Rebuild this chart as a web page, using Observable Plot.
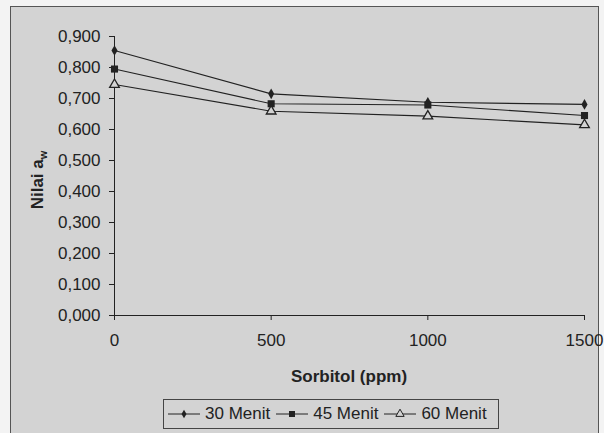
<!DOCTYPE html>
<html>
<head>
<meta charset="utf-8">
<script src="https://cdn.jsdelivr.net/npm/d3@7"></script>
<script src="https://cdn.jsdelivr.net/npm/@observablehq/plot@0.6"></script>
<style>
  html, body { margin: 0; padding: 0; background: #f3f3f3; }
  #wrap { position: relative; width: 604px; height: 433px; overflow: hidden; font-family: "Liberation Sans", Arial, sans-serif; }
  #frame { position: absolute; left: 10px; top: 6px; width: 587px; height: 440px; border: 1px solid #555; background: #d3d3d3; }
  #chart { position: absolute; left: 0; top: 0; }
  #legend { position: absolute; left: 163px; top: 399px; width: 336px; height: 30px; border: 1px solid #444; box-sizing: border-box;
            display: flex; align-items: center; padding-left: 4px; font-size: 17px; color: #222; }
  .item { display: flex; align-items: center; margin-right: 6px; }
  .item svg { margin-right: 5px; }
</style>
</head>
<body>
<div id="wrap">
  <div id="frame"></div>
  <div id="chart"></div>
  <div id="legend"></div>
</div>
<script>
// Data
const sorbitol = [0, 500, 1000, 1500];
const series = ["30 Menit", "45 Menit", "60 Menit"];
const menit30 = [0.855, 0.715, 0.688, 0.681];
const menit45 = [0.795, 0.683, 0.679, 0.645];
const menit60 = [0.745, 0.659, 0.643, 0.615];
const yTicks = [0, 0.1, 0.2, 0.3, 0.4, 0.5, 0.6, 0.7, 0.8, 0.9];
const xTicks = [0, 500, 1000, 1500];

const values = [menit30, menit45, menit60];
const data = [];
series.forEach((s, i) => sorbitol.forEach((x, j) => data.push({series: s, x, y: values[i][j]})));

const ink = "#222";
const fmt = d => d3.format(".3f")(d).replace(".", ",");

const plot = Plot.plot({
  width: 604,
  height: 433,
  marginLeft: 114,
  marginRight: 20,
  marginTop: 36,
  marginBottom: 118,
  style: {background: "transparent", fontFamily: "Liberation Sans, Arial, sans-serif", fontSize: "17px", color: ink},
  x: {domain: [0, 1500]},
  y: {domain: [0, 0.9]},
  marks: [
    Plot.axisY({ticks: yTicks, tickFormat: fmt, tickSize: 5, tickPadding: 9, label: null, stroke: ink}),
    Plot.axisX({ticks: xTicks, tickFormat: d => String(d), tickSize: 5, tickPadding: 13, label: null, stroke: ink}),
    Plot.ruleX([0], {y1: 0, y2: 0.9, stroke: ink}),
    Plot.ruleY([0], {x1: 0, x2: 1500, stroke: ink}),
    Plot.line(data, {x: "x", y: "y", z: "series", stroke: ink, strokeWidth: 1.1}),
    Plot.dot(data.filter(d => d.series === "30 Menit"), {x: "x", y: "y", symbol: "diamond", r: 3.2, fill: ink, stroke: null}),
    Plot.dot(data.filter(d => d.series === "45 Menit"), {x: "x", y: "y", symbol: "square", r: 4, fill: ink, stroke: null}),
    Plot.dot(data.filter(d => d.series === "60 Menit"), {x: "x", y: "y", symbol: "triangle", r: 3.6, fill: "#d3d3d3", stroke: ink, strokeWidth: 1.3})
  ]
});

const svg = d3.select(plot);
// axis titles
svg.append("text")
  .attr("x", 349).attr("y", 382)
  .attr("text-anchor", "middle")
  .attr("font-weight", "bold").attr("font-size", 17).attr("fill", ink)
  .text("Sorbitol (ppm)");
const yl = svg.append("text")
  .attr("transform", "translate(43,180) rotate(-90)")
  .attr("text-anchor", "middle")
  .attr("font-weight", "bold").attr("font-size", 17).attr("fill", ink);
yl.append("tspan").text("Nilai a");
yl.append("tspan").attr("font-size", 11).attr("dy", 4).text("w");

document.getElementById("chart").appendChild(plot);

// legend
const legend = d3.select("#legend");
series.forEach(s => {
  const it = legend.append("div").attr("class", "item");
  const sv = it.append("svg").attr("width", 32).attr("height", 14);
  sv.append("line").attr("x1", 0).attr("x2", 32).attr("y1", 7).attr("y2", 7).attr("stroke", ink).attr("stroke-width", 1);
  const sym = d3.symbol().type(s === "30 Menit" ? d3.symbolDiamond : s === "45 Menit" ? d3.symbolSquare : d3.symbolTriangle)
    .size(s === "30 Menit" ? 22 : s === "45 Menit" ? 36 : 30);
  sv.append("path").attr("d", sym()).attr("transform", "translate(16,7)")
    .attr("fill", s === "60 Menit" ? "#d3d3d3" : ink).attr("stroke", s === "60 Menit" ? ink : "none");
  it.append("span").text(s);
});
</script>
</body>
</html>
